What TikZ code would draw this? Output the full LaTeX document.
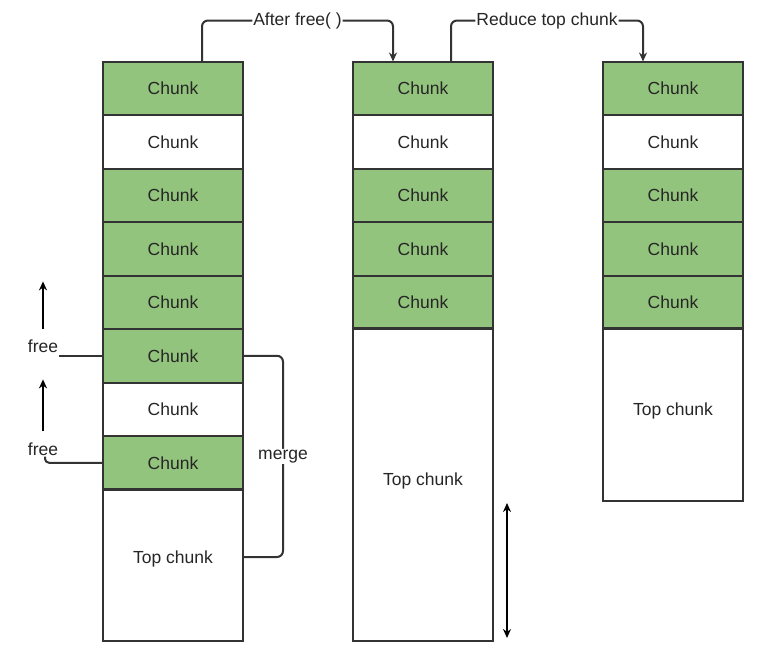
\documentclass[tikz,border=0pt]{standalone}
\usepackage{fontspec}
\setmainfont{Liberation Sans}
\usetikzlibrary{arrows.meta}
\definecolor{chunkgreen}{HTML}{93C47D}
\definecolor{linegray}{HTML}{333333}
\newcommand{\chunkfont}{\fontsize{17.5}{20}\selectfont\color{black!85}}

\begin{document}
\begin{tikzpicture}[x=1pt,y=-1pt,%
  chunk/.style={draw=linegray,line width=2pt,minimum width=140pt,minimum height=53.5pt,inner sep=0pt,outer sep=0pt,font=\chunkfont},
  used/.style={chunk,fill=chunkgreen},
  tlabel/.style={font=\chunkfont,fill=white,inner sep=1pt},
  link/.style={line width=2pt,draw=linegray,rounded corners=6pt},
  arr/.style={line width=2pt,-{Stealth[length=9pt,width=8pt]}}]
\useasboundingbox (0,0) rectangle (763,664);
\foreach \c [count=\i] in {used,chunk,used,used,used,used,chunk,used}
  \node[\c] (a\i) at (173,34.75+53.5*\i) {Chunk};
\node[chunk,minimum height=152pt,text depth=16pt] (topA) at (173,565) {Top chunk};
\foreach \c [count=\i] in {used,chunk,used,used,used}
  \node[\c] (b\i) at (423,34.75+53.5*\i) {Chunk};
\node[chunk,minimum height=313pt,text depth=10pt] (topB) at (423,484.5) {Top chunk};
\foreach \c [count=\i] in {used,chunk,used,used,used}
  \node[\c] (c\i) at (673,34.75+53.5*\i) {Chunk};
\node[chunk,minimum height=173pt,text depth=10pt] (topC) at (673,414.5) {Top chunk};
\draw[link,arr] ([xshift=29pt]a1.north) -- ++(0,-41) -| node[tlabel,pos=0.25] {After free( )} ([xshift=-30pt]b1.north);
\draw[link,arr] ([xshift=28pt]b1.north) -- ++(0,-41) -| node[tlabel,pos=0.25] {Reduce top chunk} ([xshift=-30pt]c1.north);
\node[tlabel] (free1) at (43,346) {free};
\node[tlabel] (free2) at (43,449) {free};
\draw[arr] ([yshift=9pt]free1.north) -- ++(0,-48);
\draw[arr] ([yshift=10pt]free2.north) -- ++(0,-52);
\draw[link] (a6.west) -- (a6.west -| free1.east);
\draw[link,rounded corners=4pt] (a8.west) -| ([xshift=2pt]free2.south);
\draw[link] (a6.east) -- ++(40,0) |- node[tlabel,pos=0.25] {merge} ([yshift=8pt]topA.east);
\draw[arr,{Stealth[length=9pt,width=8pt]}-{Stealth[length=9pt,width=8pt]}] ([xshift=14pt,yshift=3pt]topB.south east) -- ++(0,-135);
\end{tikzpicture}
\end{document}
